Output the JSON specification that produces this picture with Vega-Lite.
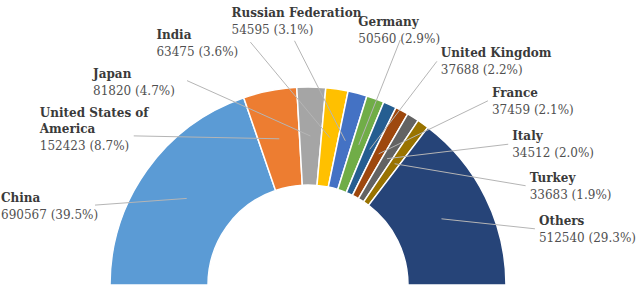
{
  "$schema": "https://vega.github.io/schema/vega-lite/v6.json",
  "width": 640,
  "height": 287,
  "padding": 0,
  "autosize": {"type": "none"},
  "background": "white",
  "config": {"view": {"stroke": null}},
  "data": {
    "values": [
      {"country": "China", "value": 690567},
      {"country": "United States of America", "value": 152423},
      {"country": "Japan", "value": 81820},
      {"country": "India", "value": 63475},
      {"country": "Russian Federation", "value": 54595},
      {"country": "Germany", "value": 50560},
      {"country": "United Kingdom", "value": 37688},
      {"country": "France", "value": 37459},
      {"country": "Italy", "value": 34512},
      {"country": "Turkey", "value": 33683},
      {"country": "Others", "value": 512540}
    ]
  },
  "transform": [
    {"window": [{"op": "row_number", "as": "rank"}, {"op": "sum", "field": "value", "as": "cum"}], "frame": [null, 0]},
    {"joinaggregate": [{"op": "sum", "field": "value", "as": "total"}]},
    {"calculate": "datum.rank - 1", "as": "i"},
    {"calculate": "(datum.cum - datum.value / 2) / datum.total", "as": "mid"},
    {"calculate": "-149 * cos(PI * datum.mid)", "as": "cx"},
    {"calculate": "149 * sin(PI * datum.mid)", "as": "cy"},
    {"calculate": "(datum.i <= 4 ? 14.59 + 14.48 * datum.i + (datum.i == 4 ? 1.4 : 0) : datum.i == 5 ? 101.1 : datum.i == 6 ? 120.6 : 134.8 + 10.43 * (datum.i - 7)) * PI / 180", "as": "at"},
    {"calculate": "datum.i <= 4 ? 317.2 - 10.29 * datum.i : datum.i <= 7 ? 261 : 248.6 - 5.35 * (datum.i - 8)", "as": "rt"},
    {"calculate": "-datum.rt * cos(datum.at)", "as": "tx"},
    {"calculate": "datum.rt * sin(datum.at)", "as": "ty"},
    {"calculate": "datum.tx + (datum.i <= 3 ? 94 : datum.i == 4 ? 63 : datum.i == 5 ? 42 : -4)", "as": "lx"},
    {"calculate": "datum.ty - (datum.i <= 3 ? 0 : datum.i == 4 ? 21 : datum.i == 5 ? 11 : 1)", "as": "ly"},
    {"calculate": "replace(datum.country, 'States of ', 'States of\\n')", "as": "nameLabel"},
    {"calculate": "datum.ty + 16 * (length(split(datum.nameLabel, '\\n')) - 1)", "as": "nameY"},
    {"calculate": "format(datum.value, 'd') + ' (' + format(datum.value / datum.total, '.1%') + ')'", "as": "valueLabel"}
  ],
  "layer": [
    {
      "mark": {"type": "arc", "radius": 198, "innerRadius": 100, "stroke": "white", "strokeWidth": 1.5, "x": {"expr": "scale('x', 0)"}, "y": {"expr": "scale('y', 0)"}},
      "encoding": {
        "theta": {"field": "value", "type": "quantitative", "stack": true, "scale": {"range": [-1.5707963, 1.5707963], "nice": false}},
        "order": {"field": "rank", "type": "quantitative"},
        "color": {
          "field": "country", "type": "nominal", "sort": null, "legend": null,
          "scale": {"range": ["#5B9BD5", "#ED7D31", "#A5A5A5", "#FFC000", "#4472C4", "#70AD47", "#255E91", "#9E480E", "#636363", "#997300", "#264478"]}
        }
      }
    },
    {
      "mark": {"type": "rule", "color": "#b5b5b5", "strokeWidth": 1},
      "encoding": {
        "x": {"field": "lx", "type": "quantitative", "scale": {"domain": [-308, 332], "nice": false, "zero": false}, "axis": null},
        "y": {"field": "ly", "type": "quantitative", "scale": {"domain": [-2, 285], "nice": false, "zero": false}, "axis": null},
        "x2": {"field": "cx"},
        "y2": {"field": "cy"}
      }
    },
    {
      "mark": {"type": "text", "align": "left", "baseline": "bottom", "font": "DejaVu Serif", "fontSize": 12, "fontWeight": "bold", "color": "#3a3a3a", "lineBreak": "\n", "lineHeight": 16},
      "encoding": {
        "x": {"field": "tx", "type": "quantitative", "scale": {"domain": [-308, 332], "nice": false, "zero": false}, "axis": null},
        "y": {"field": "nameY", "type": "quantitative", "scale": {"domain": [-2, 285], "nice": false, "zero": false}, "axis": null},
        "text": {"field": "nameLabel"}
      }
    },
    {
      "mark": {"type": "text", "align": "left", "baseline": "top", "dy": 5, "font": "DejaVu Serif", "fontSize": 12, "color": "#505050"},
      "encoding": {
        "x": {"field": "tx", "type": "quantitative", "scale": {"domain": [-308, 332], "nice": false, "zero": false}, "axis": null},
        "y": {"field": "ty", "type": "quantitative", "scale": {"domain": [-2, 285], "nice": false, "zero": false}, "axis": null},
        "text": {"field": "valueLabel"}
      }
    }
  ]
}
